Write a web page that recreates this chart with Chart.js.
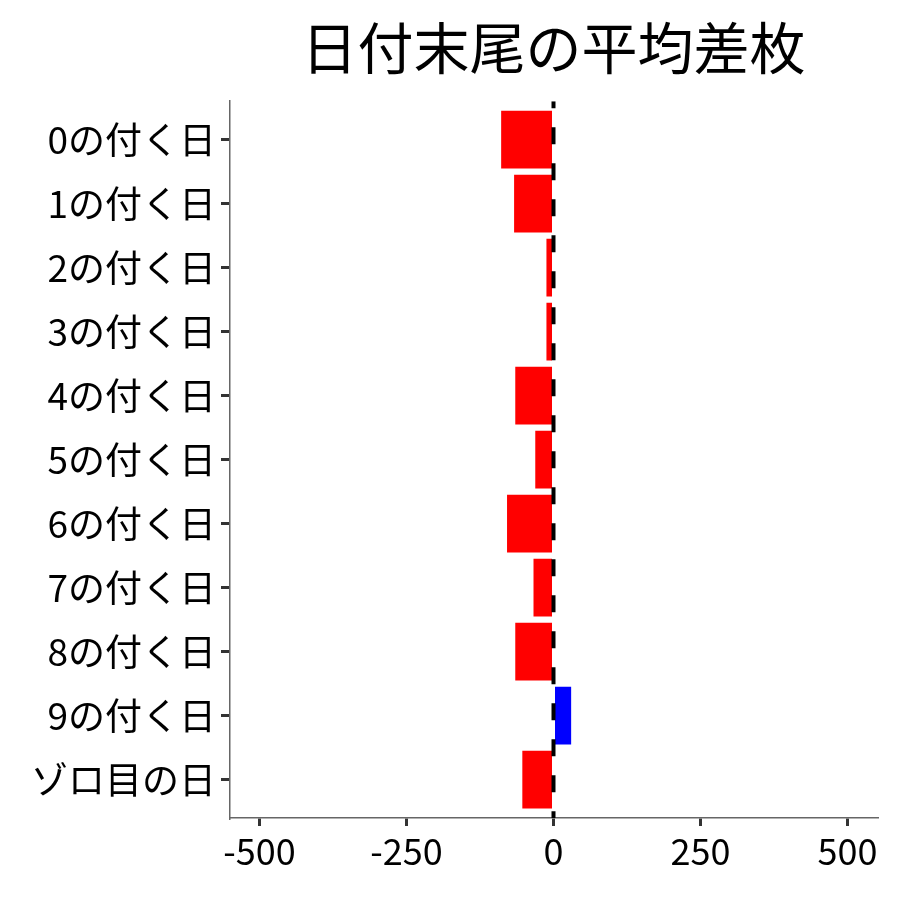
<!DOCTYPE html>
<html>
<head>
<meta charset="utf-8">
<script src="https://cdn.jsdelivr.net/npm/chart.js@4/dist/chart.umd.min.js"></script>
<style>
  html, body { margin: 0; padding: 0; background: #fff; }
  #wrap { width: 900px; height: 900px; }
</style>
</head>
<body>
<div id="wrap"><canvas id="chart" width="900" height="900"></canvas></div>
<script>
// 日付末尾ごとの平均差枚
const categories = ['0の付く日', '1の付く日', '2の付く日', '3の付く日', '4の付く日', '5の付く日',
                    '6の付く日', '7の付く日', '8の付く日', '9の付く日', 'ゾロ目の日'];
const avgDiff = [-89, -67, -12, -12, -65, -31, -79, -34, -65, 30, -53];
const xTicks = [-500, -250, 0, 250, 500];
const title = '日付末尾の平均差枚';

const FONT = '"Noto Sans CJK JP", "Noto Sans", sans-serif';

const barData = categories.map((c, i) => ({ x: avgDiff[i], y: i }));
const barColors = avgDiff.map(v => v >= 0 ? '#0000FF' : '#FF0000');

new Chart(document.getElementById('chart').getContext('2d'), {
    type: 'bar',
    data: {
        datasets: [
            {
                // x=0 の基準線
                type: 'line',
                data: [{ x: 0, y: -0.6 }, { x: 0, y: categories.length - 0.4 }],
                borderColor: '#000',
                borderWidth: 4,
                borderDash: [17, 19],
                borderDashOffset: 10,
                pointRadius: 0,
                order: 0
            },
            {
                type: 'bar',
                data: barData,
                backgroundColor: barColors,
                borderWidth: 0,
                barPercentage: 0.9,
                categoryPercentage: 1,
                order: 1
            }
        ]
    },
    options: {
        indexAxis: 'y',
        responsive: false,
        animation: false,
        devicePixelRatio: 1,
        layout: { padding: { left: 0, right: 23, top: 0, bottom: 0 } },
        plugins: {
            legend: { display: false },
            tooltip: { enabled: false },
            title: {
                display: true,
                text: title,
                fullSize: false,
                color: '#000',
                font: { family: FONT, size: 56, weight: 'normal' },
                padding: { top: 14, bottom: 20 }
            }
        },
        scales: {
            x: {
                type: 'linear',
                min: -550,
                max: 550,
                afterBuildTicks: axis => { axis.ticks = xTicks.map(v => ({ value: v })); },
                afterFit: axis => { axis.height = 82; },
                ticks: {
                    color: '#000',
                    font: { family: FONT, size: 36 },
                    padding: 4,
                    callback: v => String(v)
                },
                grid: {
                    drawOnChartArea: false,
                    drawTicks: true,
                    tickLength: 8,
                    lineWidth: 3,
                    tickColor: '#333'
                },
                border: { display: true, color: '#666', width: 1.5 }
            },
            y: {
                type: 'linear',
                reverse: true,
                offset: false,
                min: -0.6,
                max: categories.length - 0.4,
                afterBuildTicks: axis => { axis.ticks = categories.map((c, i) => ({ value: i })); },
                afterFit: axis => { axis.width = 230; },
                ticks: {
                    color: '#000',
                    autoSkip: false,
                    font: { family: FONT, size: 37 },
                    padding: 5,
                    callback: v => categories[v]
                },
                grid: {
                    offset: false,
                    drawOnChartArea: false,
                    drawTicks: true,
                    tickLength: 9,
                    lineWidth: 3,
                    tickColor: '#333'
                },
                border: { display: true, color: '#666', width: 1.5 }
            }
        }
    }
});
</script>
</body>
</html>
